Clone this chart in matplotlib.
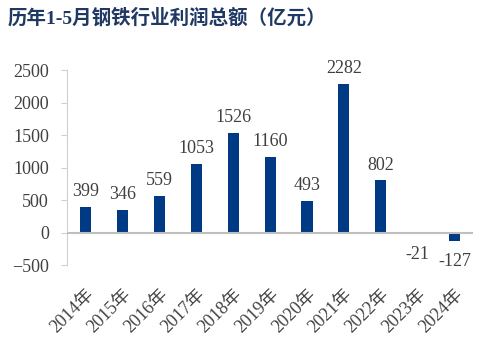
import matplotlib
matplotlib.use("Agg")
import matplotlib.pyplot as plt

years = ["2014年", "2015年", "2016年", "2017年", "2018年", "2019年",
         "2020年", "2021年", "2022年", "2023年", "2024年"]
profits = [399, 346, 559, 1053, 1526, 1160, 493, 2282, 802, -21, -127]

plt.rcParams['font.family'] = ['Liberation Serif', 'Noto Sans CJK SC']

fig = plt.figure(figsize=(4.96, 3.47), dpi=100)
ax = fig.add_axes([0.135, 0.236, 0.819, 0.562])

x = range(len(years))
ax.bar(x, profits, width=0.3, color='#003A85', zorder=2)

# value labels: above positive bars, below negative ones
for xi, v in zip(x, profits):
    if v >= 0:
        ax.annotate(str(v), (xi, v), xytext=(0, 5), textcoords='offset points',
                    ha='center', va='bottom', fontsize=13, color='#404040')
    else:
        ax.annotate(str(v), (xi, v), xytext=(0, -9), textcoords='offset points',
                    ha='center', va='top', fontsize=13, color='#404040')

ax.axhline(0, color='#BFBFBF', lw=1.5, zorder=3)
ax.set_xlim(-0.5, len(years) - 0.5)
ax.set_ylim(-500, 2500)
ax.set_yticks(range(-500, 2501, 500))
ax.set_xticks(list(x))
ax.set_xticklabels(years, rotation=45, ha='right', rotation_mode='anchor')

for s in ['top', 'right', 'bottom']:
    ax.spines[s].set_visible(False)
ax.spines['left'].set_color('#D0D0D0')
ax.tick_params(axis='y', colors='#D0D0D0', labelcolor='#404040',
               labelsize=13, length=4, pad=9)
ax.tick_params(axis='x', length=0, labelcolor='#404040', labelsize=13, pad=15)

fig.text(0.016, 0.95, "历年1-5月钢铁行业利润总额（亿元）", fontsize=14,
         fontweight='bold', color='#1F3864', va='center', ha='left')

fig.savefig("out.png", dpi=100)
